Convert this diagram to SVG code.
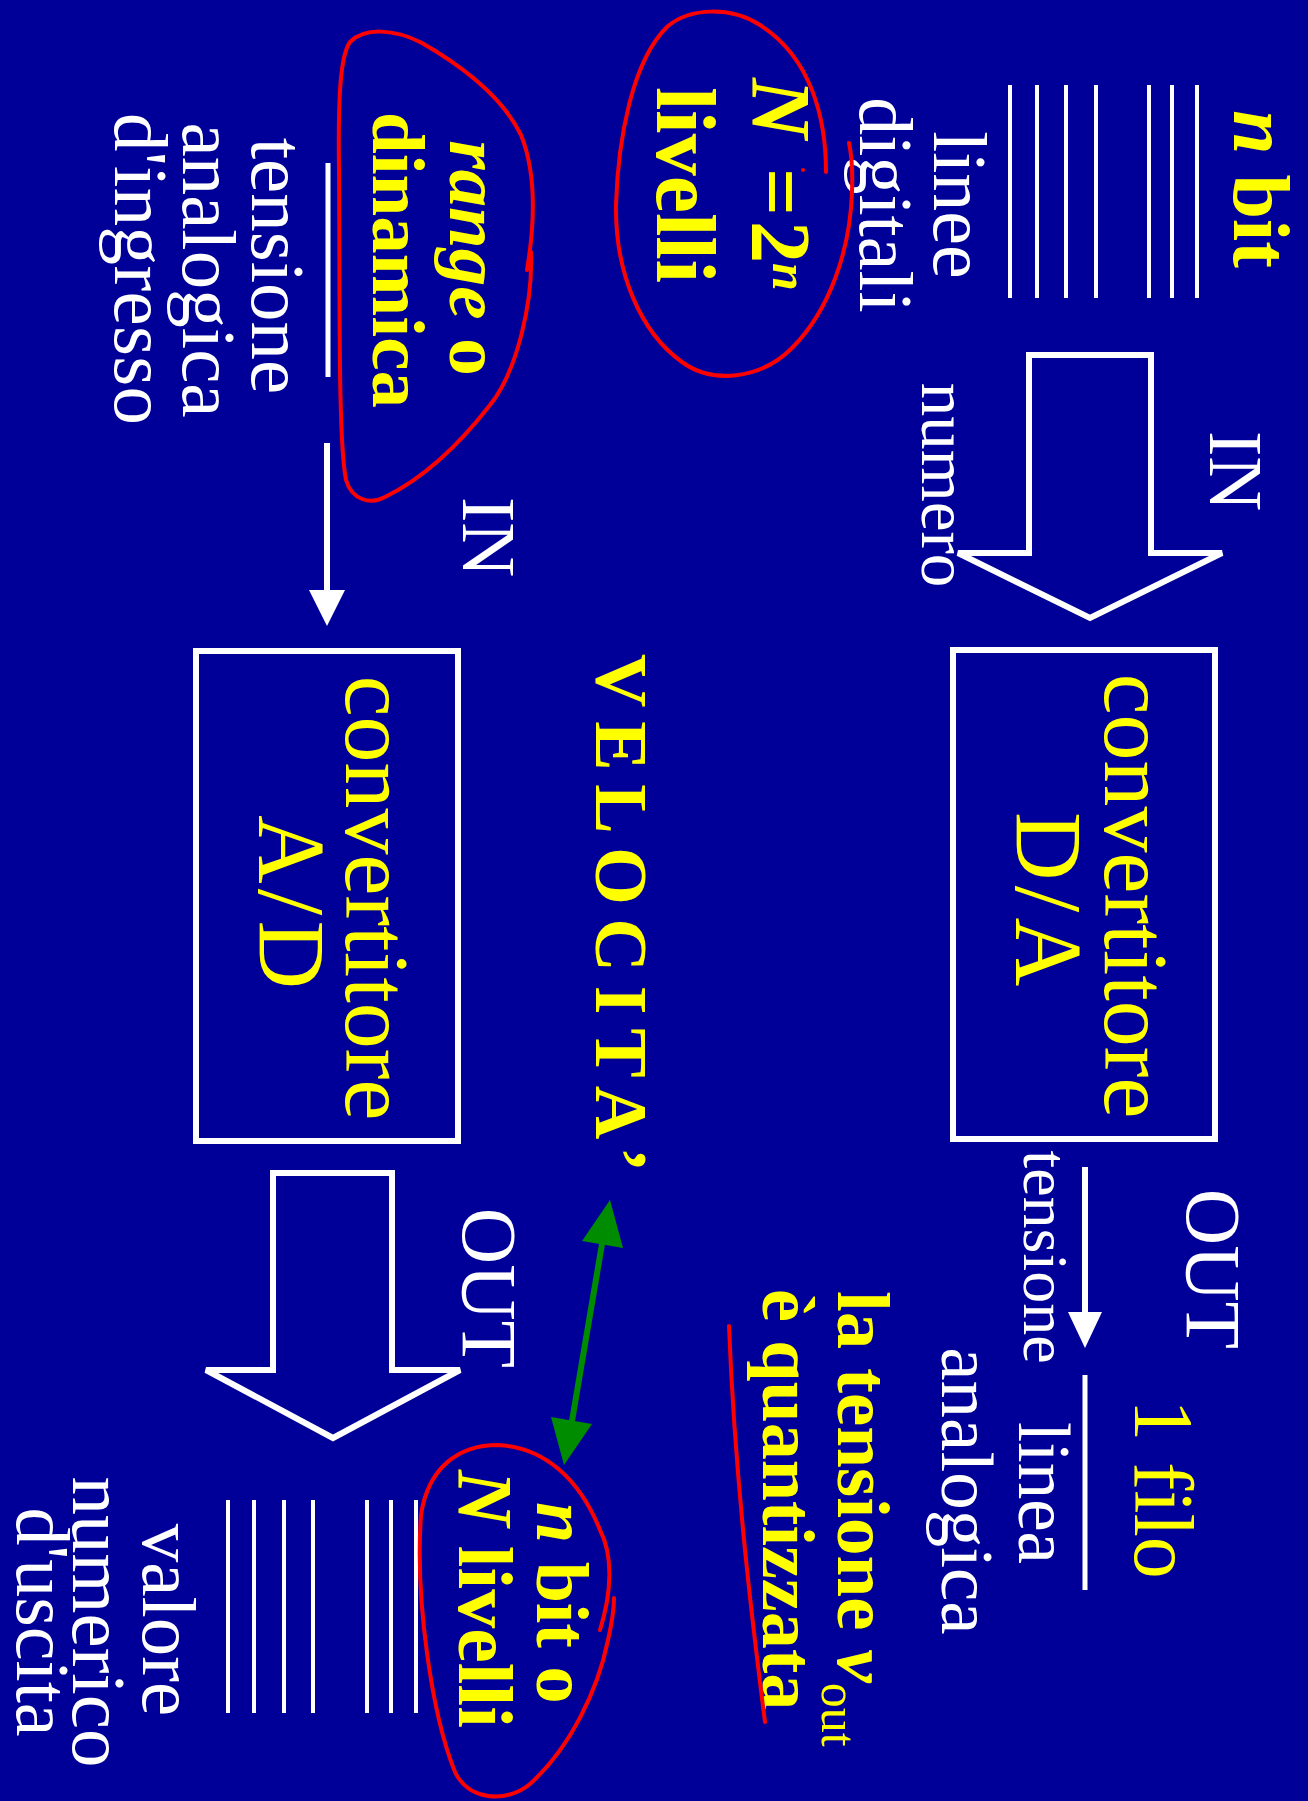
<svg xmlns="http://www.w3.org/2000/svg" width="1308" height="1801" viewBox="0 0 1308 1801">
<style>
 text{font-family:"Liberation Serif","Times New Roman",serif}
 .w{fill:#fff}
 .y{fill:#ff0}
 .b{font-weight:bold}
 .i{font-style:italic}
 .m{text-anchor:middle}
 .ln{stroke:#fff;stroke-width:4;fill:none}
 .bar{stroke:#fff;stroke-width:5;fill:none}
 .box{fill:none;stroke:#fff;stroke-width:6}
 .blk{fill:none;stroke:#fff;stroke-width:6;stroke-linejoin:miter}
 .thin{stroke:#fff;stroke-width:6;fill:none}
 .head{fill:#fff}
 .grn{stroke:#008c00;stroke-width:6;fill:none}
 .gh{fill:#008c00}
 .red{fill:none;stroke:#f00;stroke-width:4;stroke-linecap:round;stroke-linejoin:round}
</style>
<rect width="1308" height="1801" fill="#000099"/>
<g id="diagram" transform="translate(1308 0) rotate(90)">
 <g id="da-input">
  <text class="y b" x="110" y="74" font-size="80"><tspan class="i">n</tspan> bit</text>
  <path class="ln" d="M85 111H298M85 136H298M85 159H298M85 212H298M85 242H298M85 271H298M85 298H298"/>
  <text class="w m" x="205" y="374" font-size="76">linee</text>
  <text class="w m" x="205" y="448" font-size="76">digitali</text>
  <text class="w m" x="471" y="98" font-size="76">IN</text>
  <text class="w m" x="485" y="386" font-size="67">numero</text>
 </g>
 <g id="levels">
  <text class="y b" y="556" font-size="84"><tspan class="i" x="78">N</tspan><tspan x="168">=</tspan><tspan x="221">2</tspan><tspan class="i" x="263" y="535" font-size="50">n</tspan></text>
  <text class="y b m" x="185" y="651" font-size="84">livelli</text>
 </g>
 <g id="ad-input">
  <text class="y b m" x="258" y="858" font-size="75"><tspan class="i">range</tspan> o</text>
  <text class="y b m" x="260" y="935" font-size="75">dinamica</text>
  <path class="bar" d="M163 980H377"/>
  <text class="w m" x="266" y="1056" font-size="77">tensione</text>
  <text class="w m" x="270" y="1125" font-size="77">analogica</text>
  <text class="w" x="113" y="1193" font-size="77" textLength="312" lengthAdjust="spacing">d'ingresso</text>
  <text class="w m" x="537" y="845" font-size="76">IN</text>
 </g>
 <g id="da-converter">
  <rect class="box" x="650" y="93" width="489" height="262"/>
  <text class="y m" x="896" y="203" font-size="92">convertitore</text>
  <text class="y" x="812" y="292" font-size="95" textLength="174" lengthAdjust="spacing">D/A</text>
 </g>
 <g id="ad-converter">
  <rect class="box" x="651" y="850" width="490" height="262"/>
  <text class="y m" x="898" y="962" font-size="92">convertitore</text>
  <text class="y" x="815" y="1049" font-size="95" textLength="174" lengthAdjust="spacing">A/D</text>
 </g>
 <g id="velocita">
  <text class="y b" x="654" y="712" font-size="74" textLength="518" lengthAdjust="spacing">VELOCITA’</text>
 </g>
 <g id="da-output">
  <text class="w m" x="1269" y="121" font-size="78">OUT</text>
  <text class="w m" x="1257" y="284" font-size="64">tensione</text>
  <text class="y m" x="1489" y="173" font-size="84">1 filo</text>
  <path class="bar" d="M1375 223H1590"/>
  <text class="w m" x="1493" y="289" font-size="73">linea</text>
  <text class="w m" x="1491" y="366" font-size="75">analogica</text>
  <text class="y b" x="1291" y="470" font-size="75">la tensione <tspan class="i">v</tspan><tspan font-size="50" font-weight="normal" dy="16">out</tspan></text>
  <text class="y b" x="1289" y="545" font-size="74">è quantizzata</text>
 </g>
 <g id="ad-output">
  <text class="w m" x="1288" y="845" font-size="78">OUT</text>
  <text class="y b" x="1502" y="771" font-size="74"><tspan class="i">n</tspan> bit o</text>
  <text class="y b" x="1470" y="849" font-size="78"><tspan class="i">N</tspan> livelli</text>
  <path class="ln" d="M1500 892H1713M1500 917H1713M1500 941H1713M1500 995H1713M1500 1024H1713M1500 1054H1713M1500 1080H1713"/>
  <text class="w m" x="1620" y="1165" font-size="77">valore</text>
  <text class="w m" x="1622" y="1235" font-size="77">numerico</text>
  <text class="w m" x="1622" y="1291" font-size="76">d'uscita</text>
 </g>
</g>
<g id="connectors" transform="translate(1308 0) rotate(90)">
 <polygon class="blk" points="355,157 355,279 553,279 553,350 618,218 553,86 553,157"/>
 <polygon class="blk" points="1173,916 1173,1035 1370,1035 1370,1102 1438,975 1370,848 1370,916"/>
 <path class="thin" d="M443 981H592"/>
 <polygon class="head" points="590,963 590,999 626,981"/>
 <path class="thin" d="M1167 223H1314"/>
 <polygon class="head" points="1312,206 1312,240 1348,223"/>
 <path class="grn" d="M1244 706L1421 736"/>
 <polygon class="gh" points="1200,698 1248,685 1241,726"/>
 <polygon class="gh" points="1465,744 1424,716 1417,757"/>
</g>
<g id="annotations">
 <path class="red" d="M826 172C826 120 812 58 760 25C730 6 690 8 668 26C632 60 618 140 616 205C615 272 640 332 682 362C712 384 760 380 792 348C830 310 850 250 852 192C853 166 851 152 849 143"/>
 <circle cx="803" cy="170" r="2" fill="#f00"/>
 <path class="red" d="M527 270C535 222 536 172 521 135C502 96 462 66 422 43C395 29 365 27 350 42C340 56 338 100 339 170C340 300 338 440 346 480C352 500 370 505 385 497C420 480 455 450 490 405C518 370 533 300 531 252"/>
 <path class="red" d="M600 1630C612 1592 613 1555 600 1530C580 1480 545 1447 498 1445C458 1445 428 1468 421 1515C415 1600 432 1715 455 1772C468 1800 506 1804 530 1784C570 1748 598 1690 608 1640C613 1618 614 1605 614 1598"/>
 <path class="red" d="M729 1326C735 1480 752 1620 765 1722"/>
</g>
</svg>
